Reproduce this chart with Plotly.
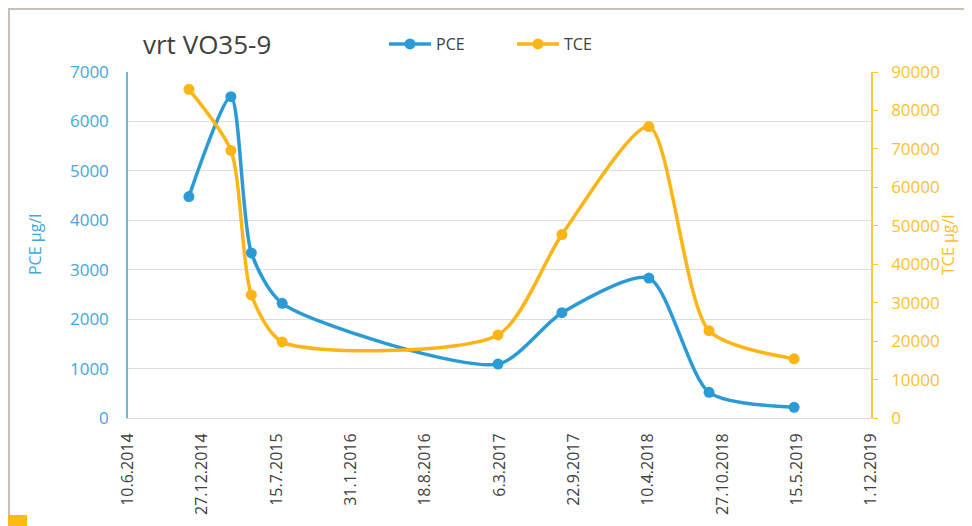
import plotly.graph_objects as go

# ---- data ----
sample_dates = ["2014-11-21", "2015-03-14", "2015-05-08", "2015-07-30", "2017-03-02",
                "2017-08-21", "2018-04-12", "2018-09-21", "2019-05-08"]
pce_values = [4480, 6500, 3340, 2320, 1090, 2130, 2830, 520, 215]
tce_values = [85500, 69600, 32000, 19800, 21600, 47700, 75800, 22700, 15400]

tick_dates = ["2014-06-10", "2014-12-27", "2015-07-15", "2016-01-31", "2016-08-18", "2017-03-06",
              "2017-09-22", "2018-04-10", "2018-10-27", "2019-05-15", "2019-12-01"]
tick_labels = ["10.6.2014", "27.12.2014", "15.7.2015", "31.1.2016", "18.8.2016", "6.3.2017",
               "22.9.2017", "10.4.2018", "27.10.2018", "15.5.2019", "1.12.2019"]

pce_ticks = [0, 1000, 2000, 3000, 4000, 5000, 6000, 7000]
tce_ticks = [0, 10000, 20000, 30000, 40000, 50000, 60000, 70000, 80000, 90000]
tce_tick_labels = ["0", "10000", "20000", "30000", "40000", "50000", "60000", "70000", "80000", "90000"]

BLUE = "#2B9BD6"
ORANGE = "#FDB515"
FONT = "Open Sans"

fig = go.Figure()
fig.add_trace(go.Scatter(
    x=sample_dates, y=pce_values, name="PCE", mode="lines+markers",
    line=dict(color=BLUE, width=3.5, shape="spline", smoothing=0.7),
    marker=dict(color=BLUE, size=11), yaxis="y"))
fig.add_trace(go.Scatter(
    x=sample_dates, y=tce_values, name="TCE", mode="lines+markers",
    line=dict(color=ORANGE, width=3.5, shape="spline", smoothing=0.7),
    marker=dict(color=ORANGE, size=11), yaxis="y2"))

# page body adds 8px offset; figure is sized to fill the rest of the window
fig.update_layout(
    width=964, height=518,
    margin=dict(l=120, r=101, t=64, b=108, autoexpand=False),
    paper_bgcolor="white", plot_bgcolor="white",
    font=dict(family=FONT, color="#404040"),
    title=dict(text="vrt VO35-9", x=135/964, xanchor="left", xref="container",
               y=1-37/518, yanchor="middle", yref="container",
               font=dict(size=26, color="#404040", family=FONT)),
    showlegend=True,
    legend=dict(orientation="h", x=(376-120)/743, xanchor="left", y=1+28/346, yanchor="middle",
                font=dict(size=16, color="#404040", family=FONT),
                bgcolor="rgba(0,0,0,0)", entrywidth=71, itemwidth=42),
    xaxis=dict(type="date", range=[tick_dates[0], tick_dates[-1]],
               tickmode="array", tickvals=tick_dates, ticktext=tick_labels,
               tickangle=-90, tickfont=dict(size=16, color="#404040"),
               showgrid=False, showline=True, linecolor="#d9d9d9", linewidth=1,
               ticks="", ticklabelstandoff=8, zeroline=False, automargin=False),
    yaxis=dict(range=[0, 7000], tickmode="array", tickvals=pce_ticks,
               tickfont=dict(size=17, color="#45A6DC"),
               showgrid=True, gridcolor="#dedede", gridwidth=1,
               showline=True, linecolor="#6DB7E3", linewidth=1.5,
               ticks="", ticklabelstandoff=14, zeroline=False, automargin=False),
    yaxis2=dict(range=[0, 90000], tickmode="array", tickvals=tce_ticks, ticktext=tce_tick_labels,
                overlaying="y", side="right",
                tickfont=dict(size=17, color="#FDBF2D"),
                showgrid=False, showline=True, linecolor="#FDC645", linewidth=1.5,
                ticks="outside", ticklen=5, tickcolor="#FDC645",
                ticklabelstandoff=10, zeroline=False, automargin=False),
)

# axis titles
fig.add_annotation(text="PCE µg/l", xref="paper", yref="paper", x=-93/743, y=0.5,
                   textangle=-90, showarrow=False, xanchor="center", yanchor="middle",
                   font=dict(size=16, color="#45A6DC", family=FONT))
fig.add_annotation(text="TCE µg/l", xref="paper", yref="paper", x=1+77/743, y=0.5,
                   textangle=-90, showarrow=False, xanchor="center", yanchor="middle",
                   font=dict(size=16, color="#FDBF2D", family=FONT))

# page frame and corner marker
fig.add_shape(type="line", xref="paper", yref="paper", x0=-120/743, x1=1+101/743,
              y0=1+63/346, y1=1+63/346, line=dict(color="#C9BFB4", width=2))
fig.add_shape(type="line", xref="paper", yref="paper", x0=-119/743, x1=-119/743,
              y0=1+63/346, y1=-97/346, line=dict(color="#C9BFB4", width=2))
fig.add_shape(type="rect", xref="paper", yref="paper", x0=-120/743, x1=-101/743,
              y0=-97/346, y1=-108/346, line=dict(width=0), fillcolor="#FDBA12")

fig.write_html("out.html")
